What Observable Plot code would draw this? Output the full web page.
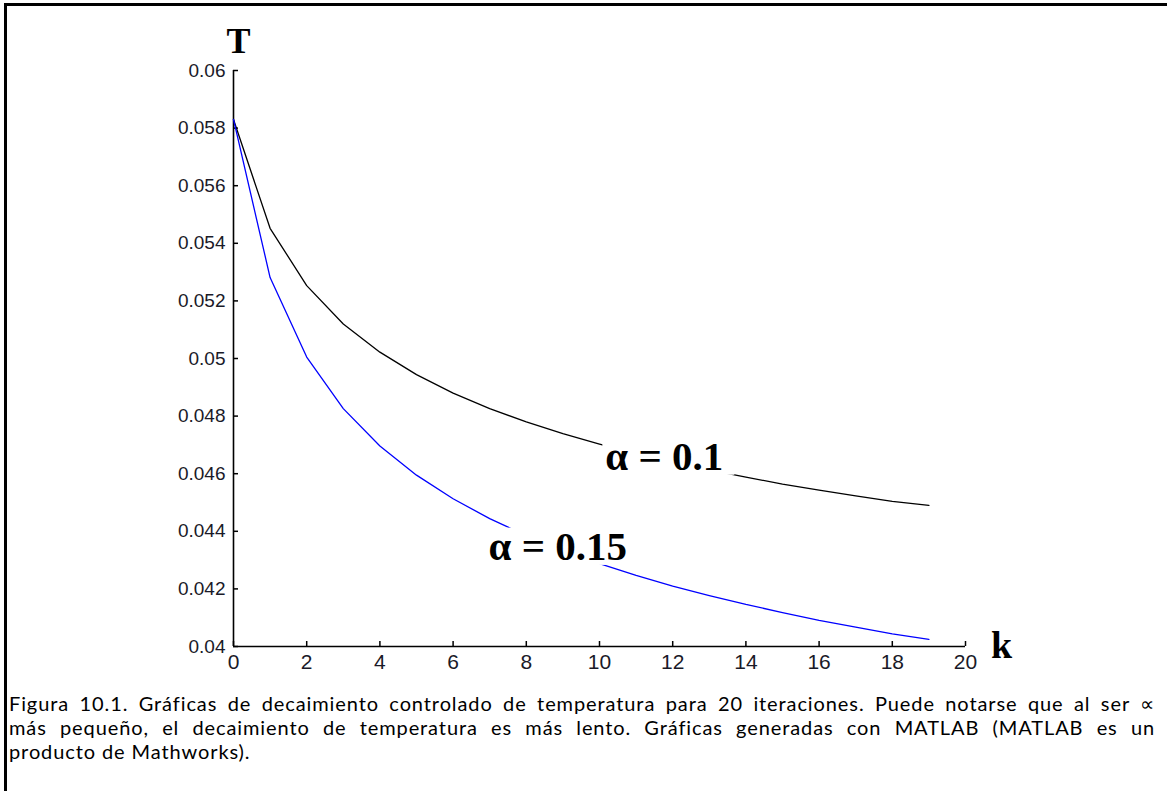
<!DOCTYPE html>
<html>
<head>
<meta charset="utf-8">
<script src="https://cdn.jsdelivr.net/npm/d3@7"></script>
<script src="https://cdn.jsdelivr.net/npm/@observablehq/plot@0.6"></script>
<style>
  html, body { margin: 0; padding: 0; background: #fff; width: 1167px; height: 791px; overflow: hidden; position: relative; }
  #frame { position: absolute; left: 4px; top: 3px; right: -20px; bottom: -20px; border-left: 3px solid #000; border-top: 3px solid #000; }
  #chart { position: absolute; left: 0; top: 0; }
  #caption { position: absolute; left: 9px; top: 691px; width: 1146px; font-family: Lato, "Open Sans", "Noto Sans", sans-serif; font-size: 20px; letter-spacing: 0.9px; line-height: 24px; color: #000; }
  #caption .j { text-align: justify; text-align-last: justify; white-space: nowrap; }
</style>
</head>
<body>
<div id="frame"></div>
<div id="chart"></div>
<div id="caption">
  <div class="j">Figura 10.1. Gráficas de decaimiento controlado de temperatura para 20 iteraciones. Puede notarse que al ser ∝</div>
  <div class="j">más pequeño, el decaimiento de temperatura es más lento. Gráficas generadas con MATLAB (MATLAB es un</div>
  <div>producto de Mathworks).</div>
</div>
<script>
// ---- data ----
const iterations = [0, 1, 2, 3, 4, 5, 6, 7, 8, 9, 10, 11, 12, 13, 14, 15, 16, 17, 18, 19];
const tempAlpha01 = [0.05830, 0.05452, 0.05253, 0.05120, 0.05022, 0.04944, 0.04880, 0.04826, 0.04780, 0.04739,
                     0.04703, 0.04670, 0.04640, 0.04613, 0.04588, 0.04564, 0.04543, 0.04523, 0.04504, 0.04490];
const tempAlpha015 = [0.05830, 0.05281, 0.05005, 0.04826, 0.04696, 0.04595, 0.04513, 0.04444, 0.04385, 0.04333,
                      0.04288, 0.04247, 0.04210, 0.04177, 0.04146, 0.04118, 0.04091, 0.04067, 0.04044, 0.04025];
const xTicks = [0, 2, 4, 6, 8, 10, 12, 14, 16, 18, 20];
const yTicks = [0.04, 0.042, 0.044, 0.046, 0.048, 0.05, 0.052, 0.054, 0.056, 0.058, 0.06];
const yTickLabels = ["0.04", "0.042", "0.044", "0.046", "0.048", "0.05", "0.052", "0.054", "0.056", "0.058", "0.06"];
const curveLabels = ["α = 0.1", "α = 0.15"];
const curveLabelK = [10.16, 6.97];
const curveLabelT = [0.0466, 0.04347];
const xDomain = [0, 20];
const yDomain = [0.04, 0.06];

// ---- tables built from the arrays ----
const rows01 = iterations.map((k, i) => ({k, T: tempAlpha01[i]}));
const rows015 = iterations.map((k, i) => ({k, T: tempAlpha015[i]}));
const labelRows = curveLabels.map((text, i) => ({text, k: curveLabelK[i], T: curveLabelT[i]}));

const serif = '"Liberation Serif", "Times New Roman", serif';
const LABEL_FS = 41;
const W = 1167, H = 688, ML = 233, MR = 202, MT = 70, MB = 42;
const TICK = 5;

const chart = Plot.plot({
  width: W,
  height: H,
  marginLeft: ML,
  marginRight: MR,
  marginTop: MT,
  marginBottom: MB,
  style: {background: "transparent", overflow: "visible"},
  x: {domain: xDomain},
  y: {domain: yDomain},
  marks: [
    Plot.axisY({ticks: yTicks, tickFormat: d => yTickLabels[yTicks.indexOf(d)], tickSize: 0, tickPadding: 8,
      fontSize: 19, fontFamily: '"Liberation Sans", Arial, sans-serif', color: "#1a1a28", label: null}),
    Plot.axisX({ticks: xTicks, tickSize: 0, tickPadding: 8,
      fontSize: 21, fontFamily: '"Liberation Sans Narrow", "Arial Narrow", "Liberation Sans", sans-serif', color: "#1a1a28", label: null}),
    // inward ticks (MATLAB style)
    Plot.tickY(yTicks, {y: d => d, insetRight: (W - ML - MR) - TICK, stroke: "#000", strokeWidth: 1.5}),
    Plot.tickX(xTicks, {x: d => d, insetTop: (H - MT - MB) - TICK, stroke: "#000", strokeWidth: 1.5}),
    Plot.ruleX([xDomain[0]], {stroke: "#000", strokeWidth: 1.6}),
    Plot.ruleY([yDomain[0]], {stroke: "#000", strokeWidth: 1.6}),
    Plot.line(rows01, {x: "k", y: "T", stroke: "#000", strokeWidth: 1.3}),
    Plot.line(rows015, {x: "k", y: "T", stroke: "#0000ff", strokeWidth: 1.3}),
    Plot.text(labelRows, {x: "k", y: "T", text: "text", textAnchor: "start", lineAnchor: "middle",
      fontFamily: serif, fontWeight: "bold", fontSize: LABEL_FS, fill: "#000"}),
    Plot.text(["T"], {frameAnchor: "top-left", dx: 5, dy: -18, textAnchor: "middle", lineAnchor: "bottom",
      fontFamily: serif, fontWeight: "bold", fontSize: 36, fill: "#000"}),
    Plot.text(["k"], {frameAnchor: "bottom-right", dx: 36, dy: 11, textAnchor: "middle", lineAnchor: "bottom",
      fontFamily: serif, fontWeight: "bold", fontSize: 38, fill: "#000"})
  ]
});
document.getElementById("chart").append(chart);

// White boxes behind the curve labels (as in the original figure, labels mask the curves)
const svgBox = chart.getBoundingClientRect();
chart.querySelectorAll("text").forEach(t => {
  if (!curveLabels.includes(t.textContent)) return;
  const b = t.getBoundingClientRect();
  const g = t.parentNode;
  const rect = document.createElementNS("http://www.w3.org/2000/svg", "rect");
  rect.setAttribute("x", b.left - svgBox.left - 3);
  rect.setAttribute("width", b.width + 14);
  rect.setAttribute("y", b.top - svgBox.top + 0.12 * LABEL_FS);
  rect.setAttribute("height", 0.91 * LABEL_FS);
  rect.setAttribute("fill", "#fff");
  g.parentNode.insertBefore(rect, g);
});
</script>
</body>
</html>
